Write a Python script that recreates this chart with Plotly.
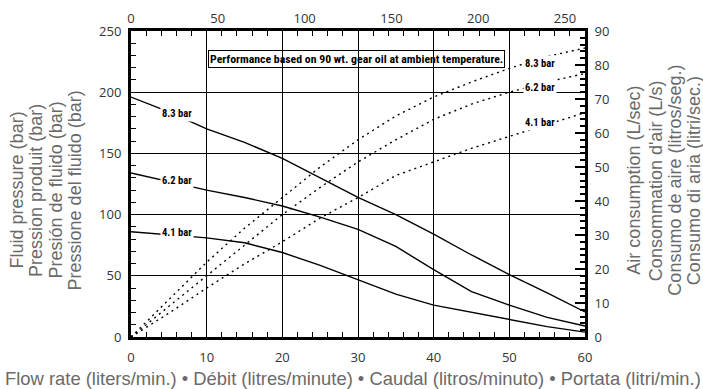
import plotly.graph_objects as go

# ---- data ----
flow = [0, 5, 10, 15, 20, 25, 30, 35, 40, 45, 50, 55, 60]

press_83 = [196, 184, 170, 159, 146, 130, 114, 100, 84, 67, 51, 36, 20.5]
press_62 = [134, 127, 120, 114, 107, 98, 88, 74, 55, 37, 26, 16, 9]
press_41 = [86, 83.5, 81, 77, 69, 58.5, 47, 35, 26, 20, 14, 8.5, 4]

air_83 = [0, 11, 22, 32, 41, 50, 58, 65, 70.6, 75, 79, 82.5, 85]
air_62 = [0, 9, 18, 27, 36, 44, 51.5, 58, 64, 68.5, 72, 75, 77.5]
air_41 = [0, 7, 14.4, 21.5, 28, 35, 41, 47.5, 51.5, 55.5, 59, 62.5, 66]

press_labels = ["8.3 bar", "6.2 bar", "4.1 bar"]
press_label_y = [183, 128, 85]
air_label_y = [80.5, 73.5, 63]

x_ticks = [0, 10, 20, 30, 40, 50, 60]
top_ticks = [0, 50, 100, 150, 200, 250]
left_ticks = [0, 50, 100, 150, 200, 250]
right_ticks = [0, 10, 20, 30, 40, 50, 60, 70, 80, 90]

left_titles = ["Fluid pressure (bar)", "Pression produit (bar)",
               "Presión de fluido (bar)", "Pressione del fluido (bar)"]
right_titles = ["Air consumption (L/sec)", "Consommation d'air (L/s)",
                "Consumo de aire (litros/seg.)", "Consumo di aria (litri/sec.)"]
bottom_title = ("Flow rate (liters/min.) \u2022 Débit (litres/minute) \u2022 "
                "Caudal (litros/minuto) \u2022 Portata (litri/min.)")
note = "Performance based on 90 wt. gear oil at ambient temperature."

# ---- figure ----
fig = go.Figure()

for ys in (press_83, press_62, press_41):
    fig.add_trace(go.Scatter(x=flow, y=ys, mode="lines",
                             line=dict(color="black", width=1.4),
                             xaxis="x", yaxis="y", showlegend=False,
                             hoverinfo="skip"))
for ys in (air_83, air_62, air_41):
    fig.add_trace(go.Scatter(x=flow, y=ys, mode="lines",
                             line=dict(color="black", width=1.4, dash="2px,4px"),
                             xaxis="x", yaxis="y2", showlegend=False,
                             hoverinfo="skip"))

tickfont = dict(family="Open Sans, Liberation Sans, Arial", size=13, color="#333")
titlefont = dict(family="Liberation Sans, Arial, Helvetica", size=18, color="#6a6a6a")
bottomfont = dict(family="Liberation Sans, Arial, Helvetica", size=18.4, color="#6a6a6a")
cond = "Roboto Condensed, Liberation Sans Narrow, Arial Narrow, DejaVu Sans Condensed"
labfont = dict(family=cond, size=10.5, color="black")
notefont = dict(family=cond, size=11.8, color="black")

fig.update_layout(
    width=703, height=389,
    margin=dict(l=131, r=118, t=31, b=52),
    paper_bgcolor="white", plot_bgcolor="white",
    xaxis=dict(range=[0, 60], tickvals=x_ticks, ticks="inside", ticklen=5,
               tickcolor="black", tickwidth=1, automargin=False,
               minor=dict(dtick=2, ticks="inside", ticklen=5, tickcolor="black",
                          showgrid=False),
               showgrid=True, gridcolor="black", gridwidth=1,
               showline=True, linecolor="black", linewidth=3, mirror="ticks",
               zeroline=False, tickfont=tickfont, ticklabelstandoff=6),
    xaxis2=dict(range=[0, 261.5], overlaying="x", side="top", tickvals=top_ticks,
                ticks="", showgrid=False, showline=False, zeroline=False,
                automargin=False, tickfont=tickfont, ticklabelstandoff=4),
    yaxis=dict(range=[0, 250], tickvals=left_ticks, ticks="inside", ticklen=5,
               tickcolor="black", automargin=False,
               minor=dict(dtick=10, ticks="inside", ticklen=5, tickcolor="black",
                          showgrid=False),
               showgrid=True, gridcolor="black", gridwidth=1,
               showline=True, linecolor="black", linewidth=3, mirror=False,
               zeroline=False, tickfont=tickfont, ticklabelstandoff=4),
    yaxis2=dict(range=[0, 90], overlaying="y", side="right", tickvals=right_ticks,
                ticks="inside", ticklen=10, tickcolor="black", tickwidth=1.5,
                automargin=False,
                minor=dict(dtick=2, ticks="inside", ticklen=5, tickcolor="black",
                           showgrid=False),
                showgrid=False, showline=True, linecolor="black", linewidth=3,
                zeroline=False, tickfont=tickfont, ticklabelstandoff=4),
)

# dummy trace on x2 so the top axis renders
fig.add_trace(go.Scatter(x=[0, 261.5], y=[None, None], xaxis="x2", yaxis="y",
                         showlegend=False, hoverinfo="skip"))

ann = []
for t, yv in zip(press_labels, press_label_y):
    ann.append(dict(x=6.1, y=yv, xref="x", yref="y", text="<b>%s</b>" % t,
                    showarrow=False, font=labfont, bgcolor="white", borderpad=1))
for t, yv in zip(press_labels, air_label_y):
    ann.append(dict(x=54.1, y=yv, xref="x", yref="y2", text="<b>%s</b>" % t,
                    showarrow=False, font=labfont, bgcolor="white", borderpad=1))

ann.append(dict(x=0.496, y=0.938, xref="paper", yref="paper",
                text="<b>%s</b>" % note, showarrow=False, font=notefont,
                bordercolor="black", borderwidth=1, borderpad=1))

left_x = [17, 36.5, 56, 75]
for t, px in zip(left_titles, left_x):
    ann.append(dict(x=0, y=0.479, xref="paper", yref="paper", xanchor="center",
                    yanchor="middle", xshift=px - 131, text=t, textangle=-90,
                    showarrow=False, font=titlefont))
right_x = [634, 655.5, 675, 693.5]
for t, px in zip(right_titles, right_x):
    ann.append(dict(x=1, y=0.511, xref="paper", yref="paper", xanchor="center",
                    yanchor="middle", xshift=px - 585, text=t, textangle=-90,
                    showarrow=False, font=titlefont))

ann.append(dict(x=0.5, y=0, xref="paper", yref="paper", xanchor="center",
                yanchor="middle", xshift=-5, yshift=-41, text=bottom_title,
                showarrow=False, font=bottomfont))

fig.update_layout(annotations=ann)
fig.write_html("out.html", config={"displayModeBar": False},
               post_script="document.body.style.margin='0';")
